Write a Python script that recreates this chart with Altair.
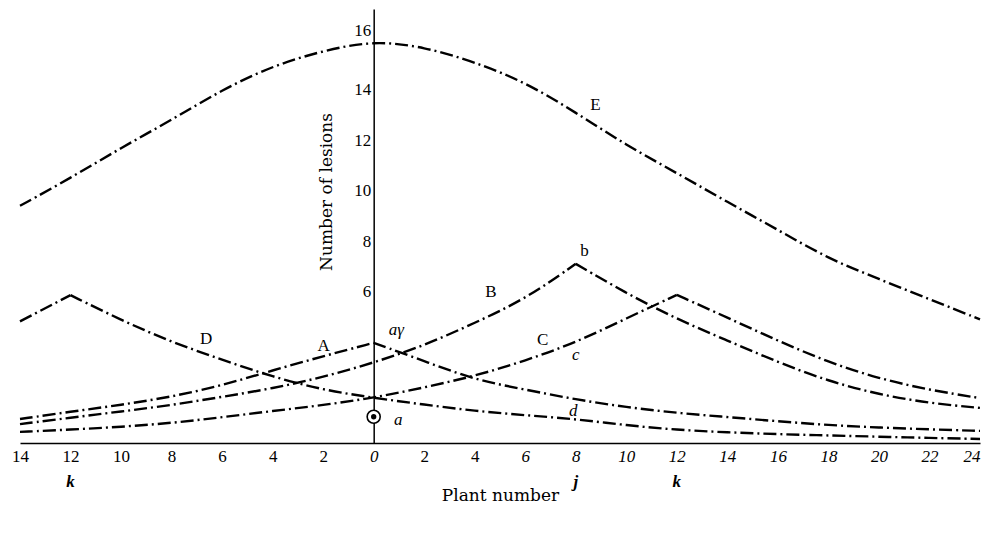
import altair as alt
import pandas as pd

plant = list(range(-14, 25, 2))

E_vals = [9.4, 10.5, 11.7, 12.8, 14.0, 14.95, 15.55, 15.95, 15.7, 15.1, 14.3, 13.1,
          11.8, 10.7, 9.55, 8.45, 7.3, 6.5, 5.7, 4.9]
A_vals = [0.95, 1.24, 1.51, 1.83, 2.28, 2.88, 3.44, 3.97, 3.25, 2.5, 2.12, 1.72,
          1.42, 1.19, 1.03, 0.86, 0.71, 0.61, 0.54, 0.48]
B_vals = [0.75, 1.0, 1.25, 1.5, 1.83, 2.16, 2.61, 3.18, 3.86, 4.76, 5.7, 7.1,
          5.93, 4.91, 4.06, 3.2, 2.45, 1.92, 1.58, 1.39]
C_vals = [0.44, 0.53, 0.64, 0.79, 1.02, 1.27, 1.5, 1.79, 2.2, 2.65, 3.26, 3.98,
          4.94, 5.87, 4.97, 4.05, 3.2, 2.55, 2.1, 1.78]
D_vals = [4.82, 5.86, 4.87, 4.0, 3.3, 2.62, 2.1, 1.79, 1.52, 1.27, 1.1, 0.95,
          0.7, 0.52, 0.42, 0.35, 0.3, 0.25, 0.2, 0.16]

peaks = {"A": 0, "B": 8, "C": 12, "D": -12, "E": None}
series = [("E", E_vals), ("A", A_vals), ("B", B_vals), ("C", C_vals), ("D", D_vals)]

rows = []
for name, vals in series:
    pk = peaks[name]
    for x, y in zip(plant, vals):
        if pk is None:
            rows.append({"curve": name, "seg": name, "x": x, "y": y})
        else:
            if x <= pk:
                rows.append({"curve": name, "seg": name + "L", "x": x, "y": y})
            if x >= pk:
                rows.append({"curve": name, "seg": name + "R", "x": x, "y": y})
df = pd.DataFrame(rows)

# annotation labels
up_text = ["E", "b", "B", "C", "D", "A"]
up_x = [8.78, 8.34, 4.64, 6.69, -6.63, -1.98]
up_y = [13.4, 7.6, 5.97, 4.1, 4.13, 3.85]
it_text = ["c", "d", "aγ", "a"]
it_x = [8.0, 7.9, 0.9, 0.97]
it_y = [3.47, 1.25, 4.49, 0.9]
bi_text = ["k", "j", "k"]
bi_x = [-12, 8, 12]
bi_y = [-1.55, -1.55, -1.55]

up_df = pd.DataFrame({"t": up_text, "x": up_x, "y": up_y})
it_df = pd.DataFrame({"t": it_text, "x": it_x, "y": it_y})
bi_df = pd.DataFrame({"t": bi_text, "x": bi_x, "y": bi_y})
src_df = pd.DataFrame({"x": [0], "y": [1.04]})
ytitle_df = pd.DataFrame({"t": ["Number of lesions"], "x": [-1.86], "y": [9.95]})

FONT = "Liberation Serif"
TFONT = "DejaVu Serif"
W, H = 960, 434

xscale = alt.Scale(domain=[-14, 24], nice=False, zero=False)
yscale = alt.Scale(domain=[0, 17.2], nice=False, zero=False)

xaxis = alt.Axis(
    values=plant, labelExpr="'' + abs(datum.value)", ticks=False, grid=False,
    domainColor="black", domainWidth=1.5, labelFont=FONT, labelFontSize=17,
    labelColor="black", labelPadding=5, labelFlush=False, labelOverlap=False,
    labelFontStyle={"condition": {"test": "datum.value >= 6 || datum.value == 0",
                                  "value": "italic"}, "value": "normal"},
    labelAlign={"condition": {"test": "datum.value == 24", "value": "right"},
                "value": "center"},
    title="Plant number", titleFont=TFONT, titleFontSize=17, titleFontWeight="normal",
    titleColor="black", titlePadding=23,
)
yaxis = alt.Axis(
    values=[6, 8, 10, 12, 14, 16], ticks=False, grid=False, offset=-W * 14 / 38,
    domainColor="black", domainWidth=1.5, labelFont=FONT, labelFontSize=17,
    labelColor="black", labelPadding=3, title=None,
    labelOffset={"condition": {"test": "datum.value == 16", "value": -9}, "value": 0},
)

lines = alt.Chart(df).mark_line(
    color="black", strokeWidth=2.4, strokeDash=[13, 4, 2, 4], interpolate="basis"
).encode(
    x=alt.X("x:Q", scale=xscale, axis=xaxis),
    y=alt.Y("y:Q", scale=yscale, axis=yaxis),
    detail="seg:N",
)

def txt(data, font=FONT, **kw):
    return alt.Chart(data).mark_text(font=font, color="black", align="center",
                                     baseline="middle", **kw).encode(
        x=alt.X("x:Q", scale=xscale), y=alt.Y("y:Q", scale=yscale), text="t:N")

up = txt(up_df, fontSize=17)
it = txt(it_df, fontSize=17, fontStyle="italic")
bi = txt(bi_df, fontSize=17, fontStyle="italic", fontWeight="bold")
ytitle = txt(ytitle_df, font=TFONT, fontSize=17, angle=270)

src_circle = alt.Chart(src_df).mark_point(
    shape="circle", size=170, filled=True, fill="white", stroke="black",
    strokeWidth=1.6, opacity=1
).encode(x=alt.X("x:Q", scale=xscale), y=alt.Y("y:Q", scale=yscale))
src_dot = alt.Chart(src_df).mark_point(
    shape="circle", size=28, filled=True, color="black", opacity=1
).encode(x=alt.X("x:Q", scale=xscale), y=alt.Y("y:Q", scale=yscale))

chart = alt.layer(lines, src_circle, src_dot, up, it, bi, ytitle).properties(
    width=W, height=H,
    autosize=alt.AutoSizeParams(type="none"),
    padding={"left": 12, "top": 1, "right": 4, "bottom": 72},
    background="white",
).configure_view(stroke=None)

chart.save("out.html", embed_options={"renderer": "svg", "actions": False})
